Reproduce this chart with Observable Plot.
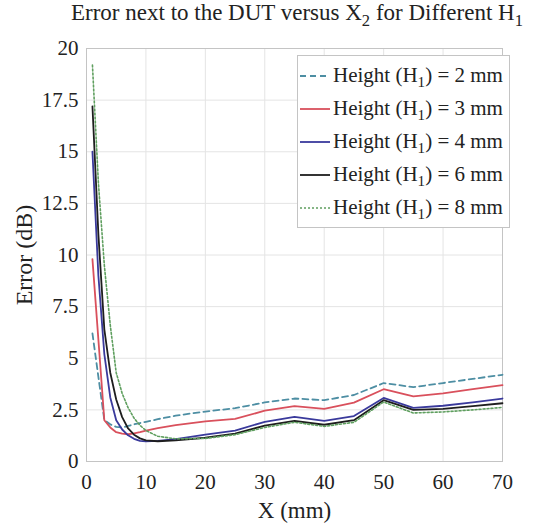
<!DOCTYPE html>
<html>
<head>
<meta charset="utf-8">
<script src="https://cdn.jsdelivr.net/npm/d3@7"></script>
<script src="https://cdn.jsdelivr.net/npm/@observablehq/plot@0.6"></script>
<style>
  html, body { margin: 0; padding: 0; background: #fff; }
  #wrap { position: relative; width: 542px; height: 525px; font-family: "Liberation Serif", "Times New Roman", Times, "DejaVu Serif", serif; color: #222; }
  #title { position: absolute; left: 0; top: 0px; width: 542px; text-align: center; font-size: 23px; padding-left: 52px; box-sizing: border-box; white-space: nowrap; }
  #title sub { font-size: 0.72em; vertical-align: -0.35em; line-height: 0; }
  #chart { position: absolute; left: 0; top: 40px; }
  #chart svg text { font-family: "Liberation Serif", "Times New Roman", Times, "DejaVu Serif", serif !important; }
  #legend { position: absolute; left: 297px; top: 55px; width: 213px; background: #fff; border: 1px solid #c4c4c4; box-sizing: border-box; padding: 3px 0 3px 2px; }
  .row { display: flex; align-items: center; height: 33px; font-size: 21px; white-space: nowrap; }
  .row svg { margin-right: 3px; flex: none; }
  .row sub { font-size: 0.72em; vertical-align: -0.35em; line-height: 0; }
</style>
</head>
<body>
<div id="wrap">
  <div id="title">Error next to the DUT versus X<sub>2</sub> for Different H<sub>1</sub></div>
  <div id="chart"></div>
  <div id="legend"></div>
</div>
<script>
// ---- data ----
const xPos = [1, 2, 3, 4, 5, 6, 7, 8, 9, 10, 12, 15, 20, 25, 30, 35, 40, 45, 50, 55, 60, 65, 70];
const errH2 = [6.2, 4.1, 2.0, 1.8, 1.68, 1.65, 1.72, 1.8, 1.86, 1.92, 2.05, 2.22, 2.42, 2.58, 2.86, 3.05, 2.97, 3.22, 3.8, 3.6, 3.8, 4.0, 4.2];
const errH3 = [9.8, 5.9, 2.0, 1.65, 1.42, 1.35, 1.32, 1.36, 1.42, 1.5, 1.62, 1.76, 1.94, 2.06, 2.46, 2.68, 2.55, 2.85, 3.5, 3.15, 3.3, 3.5, 3.7];
const errH4 = [15.0, 9.0, 5.2, 3.1, 2.0, 1.55, 1.27, 1.1, 1.0, 0.98, 1.0, 1.08, 1.3, 1.5, 1.92, 2.16, 1.97, 2.2, 3.08, 2.6, 2.7, 2.86, 3.05];
const errH6 = [17.2, 11.0, 6.4, 4.3, 3.0, 2.15, 1.6, 1.3, 1.12, 1.02, 0.98, 1.02, 1.15, 1.35, 1.74, 1.97, 1.78, 2.0, 2.97, 2.5, 2.55, 2.68, 2.82];
const errH8 = [19.2, 13.5, 9.5, 6.6, 4.3, 3.3, 2.6, 2.1, 1.75, 1.5, 1.22, 1.1, 1.12, 1.3, 1.65, 1.9, 1.7, 1.9, 2.88, 2.35, 2.4, 2.5, 2.62];
const heightsMM = [2, 3, 4, 6, 8];
const seriesNames = ["Height (H1) = 2 mm", "Height (H1) = 3 mm", "Height (H1) = 4 mm", "Height (H1) = 6 mm", "Height (H1) = 8 mm"];
const xTicks = [0, 10, 20, 30, 40, 50, 60, 70];
const yTicks = [0, 2.5, 5, 7.5, 10, 12.5, 15, 17.5, 20];

// ---- styles ----
const serif = "Liberation Serif, Times New Roman, Times, DejaVu Serif, serif";
const styles = [
  {stroke: "#4d8ea3", strokeWidth: 1.8, strokeDasharray: "6,4"},
  {stroke: "#d9505c", strokeWidth: 1.8, strokeDasharray: null},
  {stroke: "#3a3a9c", strokeWidth: 1.8, strokeDasharray: null},
  {stroke: "#1e1e1e", strokeWidth: 1.8, strokeDasharray: null},
  {stroke: "#5f9f5f", strokeWidth: 1.6, strokeDasharray: "2,2"}
];

const allSeries = [errH2, errH3, errH4, errH6, errH8];
const rows = [];
allSeries.forEach((vals, i) => vals.forEach((v, j) => rows.push({h: heightsMM[i], x: xPos[j], y: v})));

const lineMarks = heightsMM.map((h, i) =>
  Plot.line(rows.filter(d => d.h === h), {
    x: "x", y: "y",
    stroke: styles[i].stroke,
    strokeWidth: styles[i].strokeWidth,
    strokeDasharray: styles[i].strokeDasharray,
    strokeLinejoin: "round"
  })
);

const chart = Plot.plot({
  width: 542,
  height: 485,
  marginTop: 8,
  marginBottom: 64,
  marginLeft: 86,
  marginRight: 40,
  style: {fontFamily: serif, fontSize: "20px", background: "transparent", color: "#222", overflow: "visible"},
  x: {domain: [0, 70]},
  y: {domain: [0, 20]},
  marks: [
    Plot.gridX(xTicks, {stroke: "#e4e4e4", strokeOpacity: 1}),
    Plot.gridY(yTicks, {stroke: "#e4e4e4", strokeOpacity: 1}),
    Plot.frame({stroke: "#c4c4c4"}),
    Plot.axisX(xTicks, {tickSize: 0, tickPadding: 13, fontSize: 21, fontFamily: serif, label: null}),
    Plot.axisY(yTicks, {tickSize: 0, tickPadding: 8, fontSize: 21, fontFamily: serif, tickFormat: d => String(d), label: null}),
    Plot.axisX([], {label: "X (mm)", labelAnchor: "center", labelOffset: 56, labelArrow: "none", fontSize: 23, fontFamily: serif, tickSize: 0}),
    Plot.axisY([], {label: "Error (dB)", labelAnchor: "center", labelOffset: 72, labelArrow: "none", fontSize: 24, fontFamily: serif, tickSize: 0}),
    ...lineMarks
  ]
});
document.getElementById("chart").appendChild(chart);

// ---- legend ----
const legend = document.getElementById("legend");
seriesNames.forEach((name, i) => {
  const row = document.createElement("div");
  row.className = "row";
  const s = styles[i];
  row.innerHTML =
    `<svg width="30" height="10"><line x1="0" x2="30" y1="5" y2="5" stroke="${s.stroke}" stroke-width="${s.strokeWidth}" ${s.strokeDasharray ? `stroke-dasharray="${s.strokeDasharray}"` : ""}/></svg>` +
    `<span>${name.replace("H1", "H<sub>1</sub>")}</span>`;
  legend.appendChild(row);
});
</script>
</body>
</html>
